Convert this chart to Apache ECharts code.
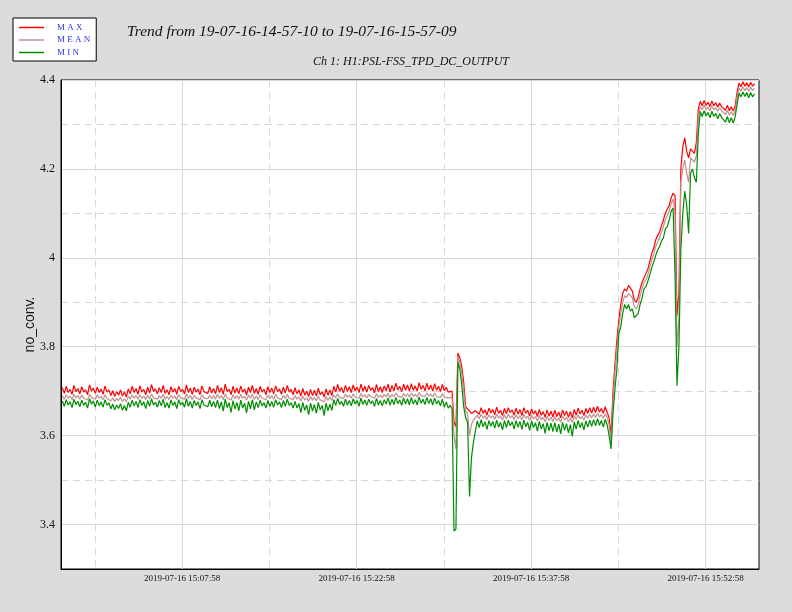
<!DOCTYPE html>
<html>
<head>
    <meta charset="utf-8" />
    <title>Trend - H1:PSL-FSS_TPD_DC_OUTPUT</title>
    <script src="https://cdn.jsdelivr.net/npm/echarts@6.0.0/dist/echarts.min.js"></script>
    <style>
        html, body { margin: 0; padding: 0; background: #dcdcdc; }
        #trend { width: 792px; height: 612px; }
    </style>
</head>
<body>
<div id="trend"></div>
<script type="text/javascript">
    // time in seconds since 19-07-16 14:57:10, one sample every 10 s
    var t0 = 30;
    var step = 10;

    var maxVals = [
        3.708,3.695,3.711,3.697,3.704,3.693,3.713,3.699,3.706,3.694,
        3.710,3.698,3.703,3.692,3.714,3.700,3.707,3.695,3.709,3.697,
        3.705,3.693,3.712,3.698,3.703,3.690,3.701,3.688,3.699,3.691,
        3.703,3.689,3.698,3.687,3.705,3.694,3.711,3.697,3.706,3.693,
        3.712,3.698,3.704,3.692,3.709,3.696,3.715,3.699,3.705,3.694,
        3.708,3.697,3.713,3.695,3.703,3.692,3.710,3.698,3.706,3.693,
        3.711,3.699,3.704,3.694,3.714,3.697,3.707,3.693,3.709,3.698,
        3.705,3.692,3.712,3.699,3.703,3.695,3.710,3.696,3.706,3.694,
        3.713,3.697,3.708,3.693,3.716,3.699,3.704,3.692,3.711,3.696,
        3.707,3.694,3.712,3.698,3.705,3.691,3.709,3.697,3.713,3.695,
        3.706,3.693,3.711,3.698,3.704,3.692,3.710,3.697,3.707,3.694,
        3.712,3.699,3.705,3.693,3.709,3.696,3.713,3.698,3.704,3.692,
        3.708,3.694,3.703,3.689,3.706,3.691,3.700,3.688,3.704,3.690,
        3.702,3.689,3.707,3.692,3.699,3.687,3.705,3.691,3.703,3.690,
        3.711,3.698,3.715,3.700,3.708,3.696,3.713,3.699,3.710,3.697,
        3.714,3.701,3.709,3.697,3.716,3.700,3.711,3.698,3.713,3.702,
        3.708,3.696,3.715,3.699,3.710,3.697,3.712,3.701,3.716,3.698,
        3.713,3.700,3.718,3.703,3.711,3.699,3.716,3.702,3.714,3.700,
        3.717,3.702,3.712,3.700,3.719,3.704,3.713,3.701,3.718,3.703,
        3.714,3.700,3.717,3.702,3.711,3.699,3.715,3.701,3.709,3.698,
        3.701,3.700,3.630,3.620,3.786,3.775,3.755,3.720,3.665,3.662,3.655,3.650,3.652,3.656,
        3.660,3.648,3.663,3.650,3.658,3.646,3.662,3.651,3.659,3.647,
        3.664,3.650,3.657,3.645,3.661,3.649,3.663,3.652,3.658,3.646,
        3.662,3.648,3.659,3.645,3.663,3.650,3.657,3.644,3.660,3.648,
        3.656,3.643,3.659,3.646,3.654,3.641,3.658,3.644,3.655,3.642,
        3.657,3.643,3.653,3.640,3.658,3.645,3.655,3.641,3.654,3.640,
        3.659,3.646,3.662,3.649,3.657,3.645,3.661,3.650,3.663,3.651,
        3.664,3.652,3.666,3.653,3.661,3.650,3.665,3.652,
        3.640,3.600,3.700,3.760,3.815,3.860,3.895,3.920,3.930,3.925,
        3.938,3.935,3.925,3.905,3.900,3.912,3.930,3.945,3.955,3.965,
        3.975,3.992,4.010,4.022,4.040,4.050,4.058,4.072,4.085,4.100,
        4.110,4.118,4.135,4.145,4.140,3.870,3.920,4.200,4.250,4.270,
        4.240,4.225,4.245,4.240,4.235,4.260,4.335,
        4.352,4.342,4.354,4.343,4.350,4.340,4.353,4.342,4.349,4.339,4.348,4.340,
        4.341,4.332,4.343,4.331,4.340,4.330,4.342,
        4.372,
        4.393,4.385,4.396,4.386,4.394,4.384,4.395,4.386,4.392
    ];

    var meanVals = [
        3.690,3.682,3.692,3.684,3.689,3.681,3.693,3.685,3.690,3.682,
        3.691,3.684,3.688,3.680,3.693,3.686,3.690,3.682,3.691,3.684,
        3.689,3.681,3.692,3.684,3.688,3.678,3.685,3.677,3.684,3.679,
        3.686,3.677,3.683,3.676,3.689,3.682,3.692,3.684,3.690,3.682,
        3.692,3.684,3.689,3.681,3.691,3.683,3.694,3.685,3.689,3.682,
        3.690,3.684,3.693,3.682,3.688,3.681,3.691,3.684,3.689,3.681,
        3.692,3.685,3.689,3.682,3.694,3.684,3.690,3.681,3.691,3.685,
        3.689,3.681,3.692,3.685,3.688,3.683,3.691,3.683,3.690,3.682,
        3.693,3.684,3.690,3.681,3.694,3.685,3.689,3.680,3.692,3.683,
        3.690,3.682,3.693,3.684,3.689,3.680,3.691,3.684,3.693,3.682,
        3.689,3.681,3.692,3.684,3.688,3.681,3.691,3.683,3.690,3.682,
        3.693,3.685,3.689,3.681,3.691,3.683,3.693,3.684,3.688,3.681,
        3.690,3.682,3.687,3.678,3.689,3.680,3.685,3.677,3.688,3.679,
        3.686,3.678,3.689,3.680,3.684,3.676,3.688,3.679,3.687,3.679,
        3.692,3.685,3.694,3.686,3.690,3.684,3.693,3.686,3.691,3.684,
        3.694,3.687,3.691,3.684,3.695,3.687,3.692,3.685,3.693,3.688,
        3.690,3.684,3.694,3.686,3.691,3.685,3.693,3.687,3.695,3.685,
        3.693,3.687,3.696,3.689,3.692,3.686,3.695,3.688,3.694,3.687,
        3.696,3.688,3.693,3.687,3.697,3.690,3.694,3.688,3.696,3.689,
        3.694,3.687,3.696,3.688,3.692,3.686,3.694,3.687,3.690,3.685,
        3.689,3.686,3.600,3.570,3.778,3.765,3.740,3.700,3.655,3.648,3.600,3.625,3.635,3.640,
        3.646,3.638,3.648,3.639,3.645,3.636,3.647,3.640,3.645,3.637,
        3.648,3.639,3.644,3.635,3.647,3.638,3.648,3.640,3.645,3.636,
        3.647,3.638,3.645,3.635,3.648,3.639,3.644,3.634,3.646,3.638,
        3.643,3.633,3.645,3.636,3.641,3.631,3.644,3.634,3.642,3.632,
        3.643,3.633,3.640,3.630,3.644,3.635,3.641,3.631,3.640,3.630,
        3.645,3.636,3.647,3.638,3.643,3.635,3.646,3.639,3.648,3.640,
        3.649,3.641,3.650,3.642,3.647,3.639,3.649,3.641,
        3.625,3.585,3.680,3.740,3.795,3.845,3.875,3.900,3.915,3.910,
        3.920,3.915,3.910,3.890,3.885,3.895,3.915,3.930,3.945,3.950,
        3.962,3.978,3.995,4.008,4.025,4.035,4.045,4.058,4.070,4.085,
        4.095,4.105,4.122,4.132,4.100,3.800,3.860,4.170,4.200,4.220,
        4.190,4.170,4.225,4.225,4.215,4.230,4.315,
        4.341,4.333,4.343,4.334,4.339,4.331,4.342,4.333,4.338,4.330,4.337,4.331,
        4.330,4.322,4.332,4.321,4.329,4.320,4.331,
        4.362,
        4.382,4.375,4.385,4.376,4.383,4.374,4.384,4.376,4.381
    ];

    var minVals = [
        3.678,3.666,3.681,3.669,3.676,3.663,3.682,3.670,3.677,3.665,
        3.680,3.668,3.675,3.662,3.683,3.671,3.678,3.664,3.680,3.667,
        3.676,3.664,3.681,3.668,3.674,3.660,3.671,3.658,3.669,3.661,
        3.672,3.657,3.668,3.656,3.675,3.664,3.680,3.667,3.677,3.663,
        3.681,3.668,3.676,3.661,3.679,3.666,3.683,3.669,3.675,3.664,
        3.679,3.667,3.682,3.663,3.674,3.662,3.680,3.668,3.676,3.661,
        3.681,3.669,3.675,3.664,3.683,3.666,3.677,3.662,3.679,3.668,
        3.676,3.661,3.681,3.669,3.673,3.665,3.680,3.665,3.677,3.663,
        3.680,3.661,3.676,3.655,3.682,3.663,3.674,3.652,3.679,3.660,
        3.675,3.656,3.680,3.662,3.673,3.651,3.677,3.660,3.681,3.658,
        3.676,3.663,3.680,3.667,3.674,3.662,3.679,3.666,3.677,3.664,
        3.681,3.669,3.676,3.663,3.679,3.666,3.682,3.668,3.674,3.662,
        3.677,3.662,3.672,3.652,3.675,3.657,3.669,3.647,3.673,3.655,
        3.670,3.650,3.675,3.658,3.668,3.645,3.673,3.656,3.671,3.657,
        3.681,3.668,3.684,3.670,3.677,3.666,3.682,3.669,3.679,3.667,
        3.683,3.671,3.679,3.666,3.685,3.670,3.680,3.668,3.682,3.672,
        3.678,3.666,3.684,3.669,3.679,3.667,3.681,3.671,3.685,3.668,
        3.682,3.670,3.686,3.672,3.680,3.668,3.685,3.671,3.683,3.669,
        3.686,3.671,3.681,3.669,3.687,3.673,3.682,3.670,3.686,3.672,
        3.683,3.669,3.685,3.671,3.679,3.667,3.682,3.664,3.676,3.662,
        3.668,3.660,3.385,3.390,3.765,3.750,3.715,3.665,3.640,3.630,3.463,3.550,3.585,3.610,
        3.633,3.618,3.636,3.620,3.631,3.614,3.634,3.621,3.632,3.617,
        3.635,3.619,3.630,3.613,3.634,3.618,3.635,3.622,3.631,3.615,
        3.634,3.619,3.632,3.614,3.635,3.620,3.630,3.612,3.633,3.618,
        3.629,3.610,3.632,3.615,3.627,3.605,3.630,3.611,3.628,3.609,
        3.629,3.608,3.626,3.604,3.630,3.612,3.627,3.606,3.625,3.598,
        3.631,3.615,3.634,3.618,3.629,3.613,3.633,3.619,3.635,3.621,
        3.636,3.622,3.638,3.623,3.634,3.619,3.637,3.624,
        3.600,3.570,3.650,3.705,3.750,3.830,3.845,3.875,3.895,3.885,
        3.895,3.880,3.885,3.865,3.870,3.875,3.895,3.910,3.930,3.935,
        3.948,3.962,3.978,3.990,4.005,4.018,4.025,4.038,4.045,4.065,
        4.070,4.085,4.105,4.112,3.960,3.712,3.800,4.020,4.100,4.150,
        4.120,4.055,4.190,4.200,4.180,4.170,4.280,
        4.329,4.318,4.331,4.319,4.327,4.315,4.330,4.318,4.325,4.313,4.324,4.316,
        4.316,4.305,4.318,4.304,4.315,4.303,4.317,
        4.345,
        4.371,4.362,4.373,4.363,4.372,4.360,4.372,4.362,4.369
    ];

    // axis ticks (seconds since 14:57:10)
    var xTicks = [648, 1548, 2448, 3348];
    var xTickLabels = ['2019-07-16 15:07:58', '2019-07-16 15:22:58', '2019-07-16 15:37:58', '2019-07-16 15:52:58'];
    var xMidTicks = [198, 1098, 1998, 2898];
    var yTicks = [3.4, 3.6, 3.8, 4, 4.2, 4.4];
    var yMidTicks = [3.5, 3.7, 3.9, 4.1, 4.3];

    function toPairs(vals) {
        return vals.map(function (v, i) { return [t0 + i * step, v]; });
    }

    var serif = 'Liberation Serif';
    var gridColor = '#d8d8d8';

    var chart = echarts.init(document.getElementById('trend'));

    var option = {
        animation: false,
        backgroundColor: '#dcdcdc',
        title: [
            {
                text: 'Trend from 19-07-16-14-57-10 to 19-07-16-15-57-09',
                left: 127, top: 24, padding: 0,
                textStyle: { fontFamily: serif, fontStyle: 'italic', fontWeight: 'normal', fontSize: 15.5, color: '#111' }
            },
            {
                text: 'Ch 1: H1:PSL-FSS_TPD_DC_OUTPUT',
                left: 313, top: 56, padding: 0,
                textStyle: { fontFamily: serif, fontStyle: 'italic', fontWeight: 'normal', fontSize: 12, color: '#111' }
            }
        ],
        legend: {
            data: ['MAX', 'MEAN', 'MIN'],
            orient: 'vertical',
            left: 13, top: 18,
            padding: [5, 6, 4, 6],
            backgroundColor: '#fff',
            borderColor: '#000',
            borderWidth: 1,
            borderRadius: 0,
            icon: 'rect',
            itemWidth: 25,
            itemHeight: 1.5,
            itemGap: 3.5,
            selectedMode: false,
            formatter: function (name) { return name.split('').join(' '); },
            textStyle: { fontFamily: serif, fontSize: 9, lineHeight: 9, color: '#3535e8', padding: [0, 0, 0, 8] }
        },
        grid: {
            left: 61, right: 33, top: 80, bottom: 43,
            show: true,
            backgroundColor: '#fff',
            borderColor: '#000',
            borderWidth: 1
        },
        xAxis: [
            {
                type: 'value', min: 23, max: 3623,
                axisLine: { show: true, lineStyle: { color: '#000', width: 1 } },
                axisTick: { show: false, customValues: xTicks },
                axisLabel: {
                    customValues: xTicks,
                    formatter: function (v) { return xTickLabels[xTicks.indexOf(v)]; },
                    fontFamily: serif, fontSize: 9, color: '#111', margin: 5
                },
                splitLine: { show: true, lineStyle: { color: gridColor, width: 1 } }
            },
            {
                type: 'value', min: 23, max: 3623, position: 'bottom',
                axisLine: { show: false },
                axisTick: { show: false, customValues: xMidTicks },
                axisLabel: { show: false, customValues: xMidTicks },
                splitLine: { show: true, lineStyle: { color: gridColor, width: 1, type: [7, 5] } }
            }
        ],
        yAxis: [
            {
                type: 'value', min: 3.3, max: 4.4,
                name: 'no_conv.',
                nameLocation: 'middle',
                nameGap: 24,
                nameMoveOverlap: false,
                nameTextStyle: { fontFamily: 'Liberation Sans', fontSize: 14, color: '#111' },
                axisLine: { show: true, lineStyle: { color: '#000', width: 1 } },
                axisTick: { show: false, customValues: yTicks },
                axisLabel: {
                    customValues: yTicks,
                    formatter: function (v) { return String(v); },
                    fontFamily: serif, fontSize: 12, color: '#111', margin: 6
                },
                splitLine: { show: true, lineStyle: { color: gridColor, width: 1 } }
            },
            {
                type: 'value', min: 3.3, max: 4.4, position: 'left',
                axisLine: { show: false },
                axisTick: { show: false, customValues: yMidTicks },
                axisLabel: { show: false, customValues: yMidTicks },
                splitLine: { show: true, lineStyle: { color: gridColor, width: 1, type: [7, 5] } }
            }
        ],
        series: [
            {
                name: 'MAX', type: 'line', data: toPairs(maxVals),
                showSymbol: false, color: '#ff0000',
                lineStyle: { width: 1.2 }, emphasis: { disabled: true }
            },
            {
                name: 'MEAN', type: 'line', data: toPairs(meanVals),
                showSymbol: false, color: '#c39090',
                lineStyle: { width: 1.2 }, emphasis: { disabled: true }
            },
            {
                name: 'MIN', type: 'line', data: toPairs(minVals),
                showSymbol: false, color: '#008c00',
                lineStyle: { width: 1.2 }, emphasis: { disabled: true }
            }
        ]
    };

    chart.setOption(option);
</script>
</body>
</html>
